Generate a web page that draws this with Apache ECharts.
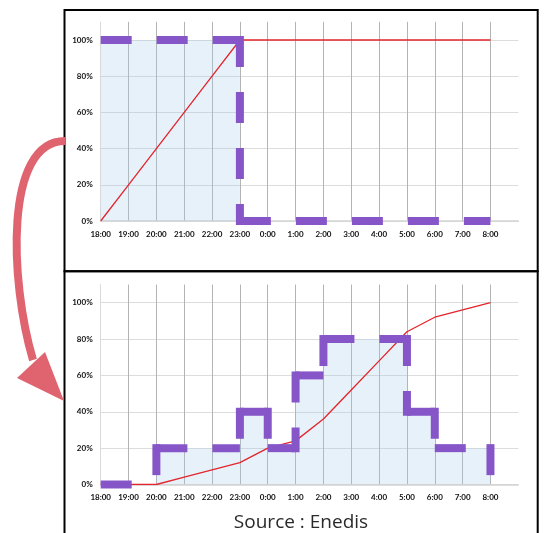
<!DOCTYPE html>
<html>
<head>
<meta charset="utf-8">
<script src="https://cdn.jsdelivr.net/npm/echarts@6/dist/echarts.min.js"></script>
<style>
  html, body { margin: 0; padding: 0; background: #fff; }
  #chart { width: 544px; height: 533px; }
</style>
</head>
<body>
<div id="chart"></div>
<script>
// ---- data ----
const hours = ['18:00','19:00','20:00','21:00','22:00','23:00','0:00','1:00','2:00','3:00','4:00','5:00','6:00','7:00','8:00'];
const yTickValues = [0, 20, 40, 60, 80, 100];
// share of charging per hourly slot (18-19, 19-20, ..., 7-8), in %
const topShare = [100, 100, 100, 100, 100, 0, 0, 0, 0, 0, 0, 0, 0, 0];
const bottomShare = [0, 0, 20, 20, 20, 40, 20, 60, 80, 80, 80, 40, 20, 20];
// cumulative curve at each hour label, in %
const topCumul = [0, 20, 40, 60, 80, 100, 100, 100, 100, 100, 100, 100, 100, 100, 100];
const bottomCumul = [0, 0, 0, 4, 8, 12, 20, 24, 36, 52, 68, 84, 92, 96, 100];
const sourceText = 'Source : Enedis';

// ---- styles ----
const PURPLE = '#8656c9';
const RED = '#e3242b';
const AREA = 'rgba(160,200,235,0.25)';
const LW = 8;
const FONT = 'Lato';

function stepSegments(share) {
  const segs = [];
  let start = 0;
  for (let i = 1; i <= share.length; i++) {
    if (i === share.length || share[i] !== share[start]) {
      const v = share[start];
      segs.push([start, v, i, v, 0]);
      const next = i < share.length ? share[i] : 0;
      if (next !== v) segs.push([i, Math.max(next, v), i, Math.min(next, v), 1]);
      start = i;
    }
  }
  return segs;
}

function xAxisFor(gi) {
  return {
    type: 'value', gridIndex: gi, min: 0, max: hours.length, interval: 1,
    axisLine: { show: true, lineStyle: { color: '#d4d4d4', width: 1.5 } },
    axisTick: { show: false },
    axisLabel: {
      margin: 9, fontFamily: FONT, fontSize: 8, fontWeight: 'bold', color: '#111',
      formatter: v => (hours[v] !== undefined ? hours[v] : '')
    },
    splitLine: { show: true, showMinLine: false, showMaxLine: false, lineStyle: { color: '#b4b4b4', width: 1 } }
  };
}
function yAxisFor(gi) {
  return {
    type: 'value', gridIndex: gi, min: 0, max: 110, interval: 20,
    axisLine: { show: true, lineStyle: { color: '#dadada', width: 1 } },
    axisTick: { show: false },
    axisLabel: {
      margin: 8, fontFamily: FONT, fontSize: 8, fontWeight: 'bold', color: '#111',
      formatter: v => (yTickValues.indexOf(v) >= 0 ? v + '%' : '')
    },
    splitLine: { show: true, showMaxLine: false, lineStyle: { color: '#dcdcdc', width: 1 } }
  };
}

function panelSeries(gi, share, cumul) {
  const areaData = share.map((v, i) => [i, v]).concat([[share.length, share[share.length - 1]]]);
  return [
    {
      type: 'line', xAxisIndex: gi, yAxisIndex: gi, step: 'end', data: areaData,
      symbol: 'none', lineStyle: { width: 0, opacity: 0 }, areaStyle: { color: AREA, opacity: 1 },
      silent: true, z: 1
    },
    {
      type: 'line', xAxisIndex: gi, yAxisIndex: gi, data: cumul.map((v, i) => [i, v]),
      symbol: 'none', lineStyle: { color: RED, width: 1.3 }, silent: true, z: 2
    },
    {
      type: 'custom', xAxisIndex: gi, yAxisIndex: gi, data: stepSegments(share),
      encode: { x: [0, 2], y: [1, 3] }, silent: true, z: 3,
      renderItem: function (params, api) {
        const p1 = api.coord([api.value(0), api.value(1)]);
        const p2 = api.coord([api.value(2), api.value(3)]);
        const ext = api.value(4) ? LW / 2 : 0;
        return {
          type: 'line',
          shape: { x1: p1[0], y1: p1[1] - ext, x2: p2[0], y2: p2[1] + ext },
          style: { stroke: PURPLE, lineWidth: LW, lineDash: [31, 25], lineCap: 'butt', fill: null }
        };
      }
    }
  ];
}

const chart = echarts.init(document.getElementById('chart'), null, { renderer: 'canvas' });
chart.setOption({
  animation: false,
  backgroundColor: '#fff',
  grid: [
    { left: 100.7, top: 21.9, width: 417.6, height: 199.1 },
    { left: 100.7, top: 284.5, width: 417.6, height: 200 }
  ],
  xAxis: [xAxisFor(0), xAxisFor(1)],
  yAxis: [yAxisFor(0), yAxisFor(1)],
  series: panelSeries(0, topShare, topCumul).concat(panelSeries(1, bottomShare, bottomCumul)),
  graphic: [
    { type: 'rect', shape: { x: 64.5, y: 10, width: 473.2, height: 261.3 },
      style: { fill: null, stroke: '#000', lineWidth: 2 }, z: 10 },
    { type: 'rect', shape: { x: 64.5, y: 271.3, width: 473.2, height: 290 },
      style: { fill: null, stroke: '#000', lineWidth: 2 }, z: 10 },
    { type: 'bezierCurve',
      shape: { x1: 65, y1: 141, cpx1: 4, cpy1: 141, cpx2: 9.8, cpy2: 281, x2: 33, y2: 360 },
      style: { stroke: '#e0646f', lineWidth: 8, fill: null }, z: 11 },
    { type: 'polygon', shape: { points: [[64, 401], [17, 378], [45, 352]] },
      style: { fill: '#e0646f' }, z: 11 },
    { type: 'text', x: 301, y: 523,
      style: { text: sourceText, font: 'normal 19px "Open Sans"', fill: '#2a2a2a', textAlign: 'center', textVerticalAlign: 'middle' },
      z: 12 }
  ]
});
</script>
</body>
</html>
